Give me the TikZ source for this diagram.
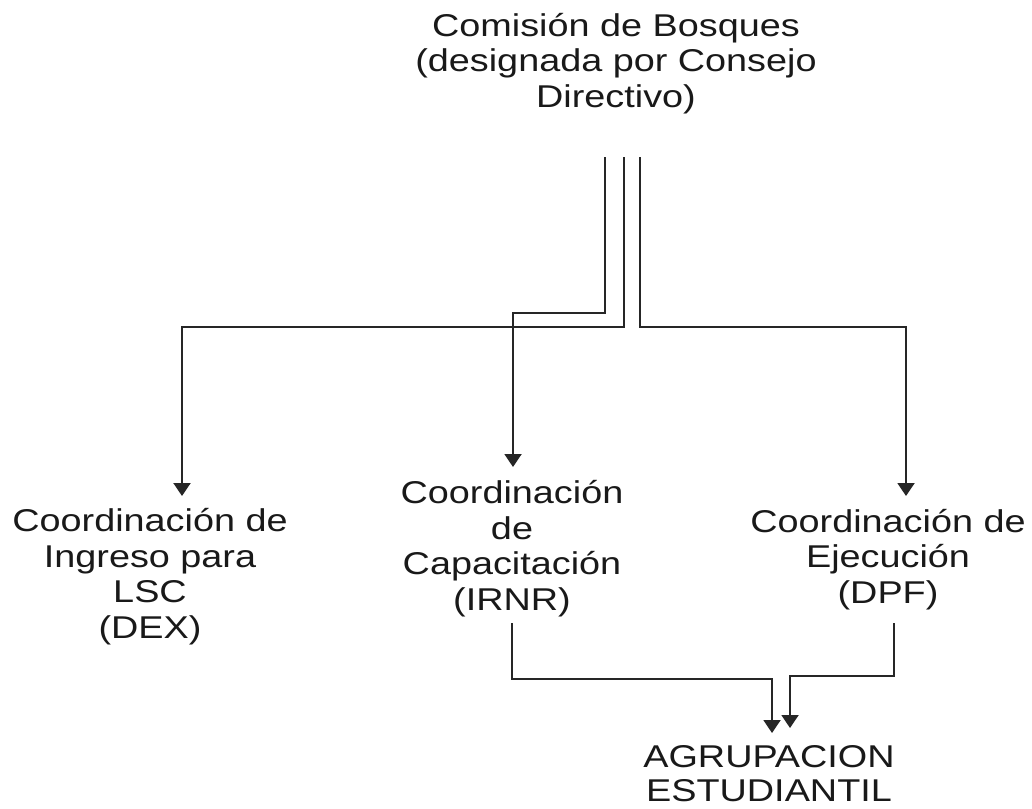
\documentclass[tikz,border=0pt]{standalone}
\usepackage{fontspec}
\setmainfont{Liberation Sans}[FakeStretch=1.2]
\usetikzlibrary{arrows.meta}
\begin{document}
\begin{tikzpicture}[x=1pt,y=-1pt,
  lbl/.style={anchor=base,align=center,inner sep=0pt,text=black!90,font=\fontsize{31.5}{35.5}\selectfont},
  conn/.style={draw=black!85,line width=2pt},
  arr/.style={conn,-{Triangle[width=17pt,length=13pt]}}]
\useasboundingbox[fill=white] (0,0) rectangle (1032,808);
\node[lbl] (top) at (616,107) {Comisión de Bosques\\(designada por Consejo\\Directivo)};
\node[lbl] (dex) at (150,638) {Coordinación de\\Ingreso para\\LSC\\(DEX)};
\node[lbl] (irnr) at (512,610) {Coordinación\\de\\Capacitación\\(IRNR)};
\node[lbl] (dpf) at (888,603) {Coordinación de\\Ejecución\\(DPF)};
\node[lbl,font=\fontsize{31.5}{34}\selectfont] (agr) at (769,801) {AGRUPACION\\ESTUDIANTIL};
% junction coordinates
\coordinate (s1) at (605,157);
\coordinate (s2) at (624,157);
\coordinate (s3) at (640,157);
\coordinate (tdex) at (182,496);
\coordinate (tirnr) at (513,467);
\coordinate (tdpf) at (906,496);
\coordinate (oirnr) at (512,623);
\coordinate (odpf) at (894,623);
\coordinate (tagr1) at (772,733);
\coordinate (tagr2) at (790,728);
\draw[arr] (s1) -- (s1 |- 0,313) -- (tirnr |- 0,313) -- (tirnr);
\draw[arr] (s2) -- (s2 |- 0,327) -- (tdex |- 0,327) -- (tdex);
\draw[arr] (s3) -- (s3 |- 0,327) -- (tdpf |- 0,327) -- (tdpf);
\draw[arr] (oirnr) -- (oirnr |- 0,679) -- (tagr1 |- 0,679) -- (tagr1);
\draw[arr] (odpf) -- (odpf |- 0,676) -- (tagr2 |- 0,676) -- (tagr2);
\end{tikzpicture}
\end{document}
